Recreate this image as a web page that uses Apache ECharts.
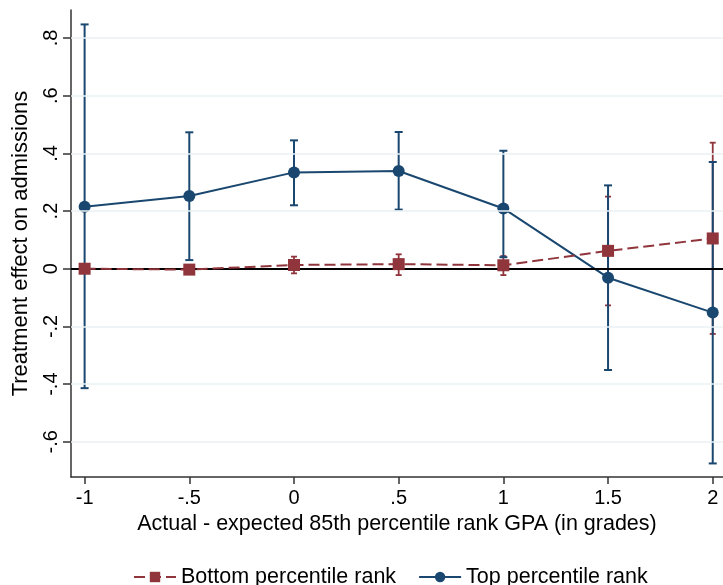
<!DOCTYPE html>
<html>
<head>
<meta charset="utf-8">
<script src="https://cdn.jsdelivr.net/npm/echarts@6/dist/echarts.min.js"></script>
<style>html,body{margin:0;padding:0;background:#fff}#c{width:723px;height:585px}</style>
</head>
<body>
<div id="c"></div>
<script>
var xVals = [-1, -0.5, 0, 0.5, 1, 1.5, 2];
var topEst = [0.215, 0.252, 0.334, 0.339, 0.209, -0.031, -0.152];
var topLo  = [-0.414, 0.030, 0.220, 0.205, 0.040, -0.351, -0.675];
var topHi  = [0.847, 0.473, 0.445, 0.474, 0.409, 0.289, 0.370];
var botEst = [0.000, -0.003, 0.013, 0.016, 0.012, 0.062, 0.105];
var botLo  = [-0.010, -0.012, -0.016, -0.022, -0.022, -0.127, -0.226];
var botHi  = [0.010, 0.006, 0.042, 0.050, 0.044, 0.250, 0.437];
var xTicks = [-1, -0.5, 0, 0.5, 1, 1.5, 2];
var yTicks = [-0.6, -0.4, -0.2, 0, 0.2, 0.4, 0.6, 0.8];
var seriesNames = ['Bottom percentile rank', 'Top percentile rank'];

var BLUE = '#1a476f', RED = '#90353b';
var FONT = "'Liberation Sans', Arial, sans-serif";

function fmt(v) {
  if (Math.abs(v) < 1e-9) return '0';
  var s = String(Math.round(v * 10) / 10);
  return s.replace(/^(-?)0\./, '$1.');
}
function pairs(xs, ys) { return xs.map(function (x, i) { return [x, ys[i]]; }); }
function errData(lo, hi) { return xVals.map(function (x, i) { return [x, lo[i], hi[i]]; }); }
function errRender(color, cap, lw) {
  return function (params, api) {
    var x = api.value(0);
    var p1 = api.coord([x, api.value(1)]);
    var p2 = api.coord([x, api.value(2)]);
    var st = { stroke: color, lineWidth: lw };
    return { type: 'group', children: [
      { type: 'line', shape: { x1: p1[0], y1: p1[1], x2: p2[0], y2: p2[1] }, style: st },
      { type: 'line', shape: { x1: p1[0] - cap, y1: p1[1], x2: p1[0] + cap, y2: p1[1] }, style: st },
      { type: 'line', shape: { x1: p2[0] - cap, y1: p2[1], x2: p2[0] + cap, y2: p2[1] }, style: st }
    ]};
  };
}

var gridLines = yTicks.filter(function (v) { return v !== 0; }).map(function (v) {
  return { yAxis: v, lineStyle: { color: '#eaf2f3', width: 1.5, type: 'solid' } };
});
gridLines.push({ yAxis: 0, lineStyle: { color: '#000', width: 2, type: 'solid' } });

var chart = echarts.init(document.getElementById('c'), null, { renderer: 'canvas' });
chart.setOption({
  animation: false,
  backgroundColor: '#fff',
  textStyle: { fontFamily: FONT },
  grid: { left: 71, right: 0, top: 10, bottom: 108, containLabel: false },
  legend: {
    data: seriesNames,
    left: 128, top: 561,
    itemWidth: 42, itemHeight: 13, itemGap: 22,
    textStyle: { fontFamily: FONT, fontSize: 21.5, color: '#000' }
  },
  xAxis: {
    type: 'value', min: -1.065, max: 2.049,
    name: 'Actual - expected 85th percentile rank GPA (in grades)',
    nameLocation: 'middle', nameGap: 35,
    nameTextStyle: { fontFamily: FONT, fontSize: 21.5, color: '#000' },
    axisLine: { show: true, onZero: false, lineStyle: { color: '#333', width: 1.5 } },
    axisTick: { show: true, length: 7, customValues: xTicks, lineStyle: { color: '#333', width: 1.5 } },
    axisLabel: { customValues: xTicks, formatter: fmt, fontFamily: FONT, fontSize: 20, color: '#000', margin: 11 },
    splitLine: { show: false }
  },
  yAxis: {
    type: 'value', min: -0.722, max: 0.897,
    name: 'Treatment effect on admissions',
    nameLocation: 'middle', nameGap: 39, nameRotate: 90,
    nameTextStyle: { fontFamily: FONT, fontSize: 22, color: '#000' },
    axisLine: { show: true, onZero: false, lineStyle: { color: '#333', width: 1.5 } },
    axisTick: { show: true, length: 8, customValues: yTicks, lineStyle: { color: '#333', width: 1.5 } },
    axisLabel: { customValues: yTicks, formatter: fmt, rotate: 90, fontFamily: FONT, fontSize: 20, color: '#000', margin: 10 },
    splitLine: { show: false }
  },
  series: [
    {
      type: 'custom', name: 'botCI', z: 2, silent: true,
      data: errData(botLo, botHi),
      renderItem: errRender(RED, 3, 1.8),
      markLine: { silent: true, symbol: 'none', label: { show: false }, animation: false, data: gridLines }
    },
    {
      type: 'custom', name: 'topCI', z: 3, silent: true,
      data: errData(topLo, topHi),
      renderItem: errRender(BLUE, 4, 2)
    },
    {
      type: 'line', name: seriesNames[1], z: 4,
      data: pairs(xVals, topEst),
      symbol: 'circle', symbolSize: 12,
      lineStyle: { color: BLUE, width: 2 },
      itemStyle: { color: BLUE }
    },
    {
      type: 'line', name: seriesNames[0], z: 5,
      data: pairs(xVals, botEst),
      symbol: 'rect', symbolSize: 12,
      lineStyle: { color: RED, width: 2, type: [11, 5] },
      itemStyle: { color: RED }
    }
  ]
});
</script>
</body>
</html>
